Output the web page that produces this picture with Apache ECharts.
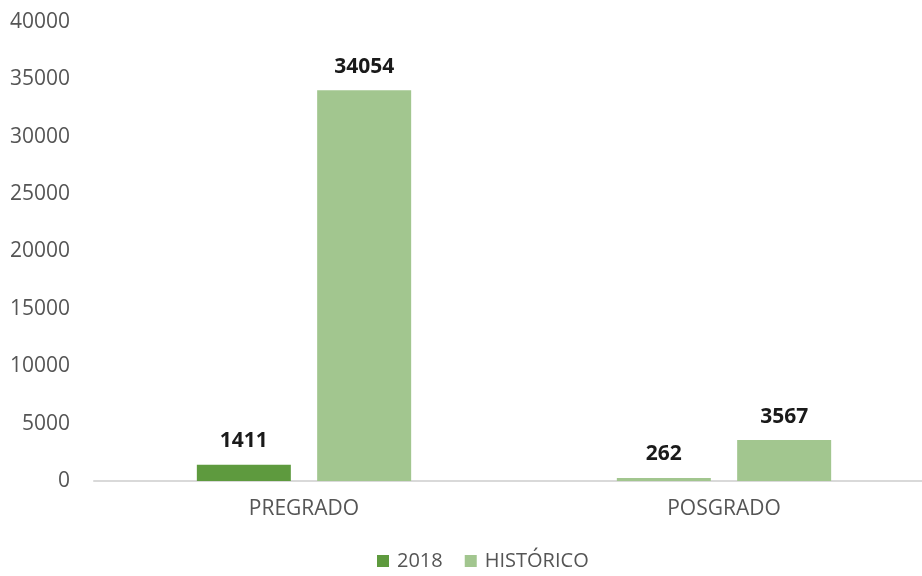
<!DOCTYPE html>
<html>
<head>
<meta charset="utf-8">
<script src="https://cdn.jsdelivr.net/npm/echarts@6/dist/echarts.min.js"></script>
<style>
  html, body { margin: 0; padding: 0; background: #fff; }
  #chart { width: 922px; height: 576px; }
</style>
</head>
<body>
<div id="chart"></div>
<script>
const categories = ["PREGRADO", "POSGRADO"];
const values2018 = [1411, 262];
const valuesHistorico = [34054, 3567];
const yTicks = [0, 5000, 10000, 15000, 20000, 25000, 30000, 35000, 40000];

const dark = "#5e9a3e";
const light = "#a2c68f";
const font = "Open Sans";

const chart = echarts.init(document.getElementById("chart"));

const labelStyle = {
  show: true,
  position: "top",
  distance: 13,
  color: "#1a1a1a",
  fontWeight: "bold",
  fontSize: 21,
  fontFamily: font
};

chart.setOption({
  animation: false,
  textStyle: { fontFamily: font },
  grid: { left: 94, top: 22, width: 840, height: 459, outerBoundsMode: "none", containLabel: false },
  legend: {
    top: 551,
    left: 377,
    padding: 0,
    itemWidth: 12,
    itemHeight: 12,
    itemGap: 22,
    icon: "rect",
    textStyle: { fontSize: 20, color: "#555", fontFamily: font, padding: [0, 0, 0, 3] },
    data: ["2018", "HISTÓRICO"]
  },
  xAxis: {
    type: "category",
    data: categories,
    axisLine: { lineStyle: { color: "#d9d9d9", width: 2 } },
    axisTick: { show: false },
    axisLabel: { fontSize: 21, color: "#555", margin: 18, fontFamily: font }
  },
  yAxis: {
    type: "value",
    min: yTicks[0],
    max: yTicks[yTicks.length - 1],
    interval: yTicks[1] - yTicks[0],
    splitLine: { show: false },
    axisLine: { show: false },
    axisTick: { show: false },
    axisLabel: { fontSize: 21, color: "#555", margin: 24, fontFamily: font, formatter: v => String(v) }
  },
  series: [
    {
      name: "2018",
      type: "bar",
      barWidth: 94,
      barGap: "28%",
      itemStyle: { color: dark },
      label: labelStyle,
      data: values2018.map((v, i) => i === 1 ? { value: v, itemStyle: { color: light } } : v)
    },
    {
      name: "HISTÓRICO",
      type: "bar",
      barWidth: 94,
      itemStyle: { color: light },
      label: labelStyle,
      data: valuesHistorico
    }
  ]
});
</script>
</body>
</html>
